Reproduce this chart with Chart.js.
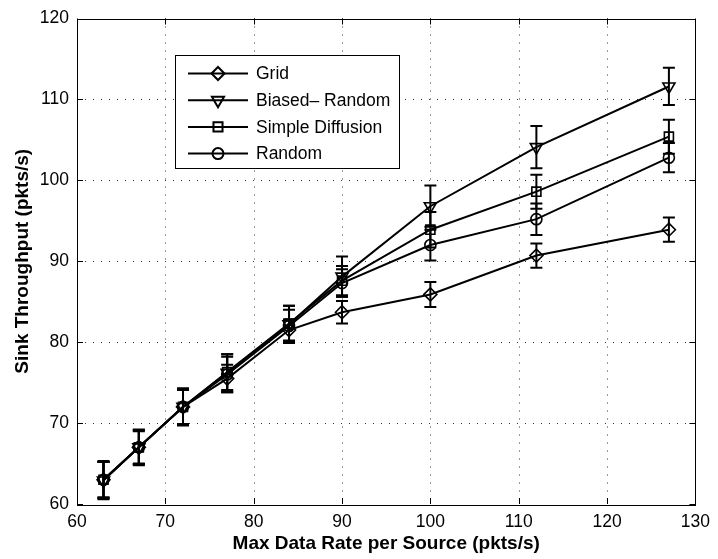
<!DOCTYPE html>
<html>
<head>
<meta charset="utf-8">
<script src="https://cdn.jsdelivr.net/npm/chart.js@4.4.1/dist/chart.umd.min.js"></script>
<style>
  html, body { margin: 0; padding: 0; background: #fff; }
  #wrap { width: 718px; height: 559px; }
</style>
</head>
<body>
<div id="wrap"><canvas id="tputChart" width="718" height="559"></canvas></div>
<script>
// x positions (max data rate per source)
const rates = [63, 67, 72, 77, 84, 90, 100, 112, 127];

const seriesNames = ["Grid", "Biased\u2013 Random", "Simple Diffusion", "Random"];

// mean sink throughput
const gridTput   = [63.0, 67.0, 72.0, 75.5, 81.5, 83.7, 85.9, 90.7, 93.9];
const biasedTput = [62.9, 67.0, 72.0, 76.2, 82.2, 88.1, 96.8, 104.1, 111.6];
const diffTput   = [63.0, 67.0, 72.0, 76.3, 82.3, 87.6, 93.9, 98.6, 105.4];
const randomTput = [63.0, 67.0, 72.0, 76.0, 82.0, 87.3, 92.0, 95.2, 102.8];

// half-width of the error bars
const gridErr   = [2.2, 2.0, 2.1, 1.7, 1.3, 1.4, 1.55, 1.5, 1.5];
const biasedErr = [2.3, 2.2, 2.3, 2.3, 2.3, 2.5, 2.55, 2.6, 2.3];
const diffErr   = [2.3, 2.1, 2.2, 2.2, 2.2, 1.8, 2.2, 2.1, 2.1];
const randomErr = [2.2, 2.1, 2.2, 2.2, 2.0, 1.7, 1.9, 1.95, 1.8];

const xTicks = [60, 70, 80, 90, 100, 110, 120, 130];
const yTicks = [60, 70, 80, 90, 100, 110, 120];

const seriesValues = [gridTput, biasedTput, diffTput, randomTput];
const seriesErrors = [gridErr, biasedErr, diffErr, randomErr];

const markers = [
  { pointStyle: "rectRot", radius: 6.5, rotation: 0 },
  { pointStyle: "triangle", radius: 7, rotation: 180 },
  { pointStyle: "rect", radius: 6.4, rotation: 0 },
  { pointStyle: "circle", radius: 5.5, rotation: 0 }
];

const fontFamily = "'Liberation Sans', Arial, Helvetica, sans-serif";

// dotted grid, axis box and inward tick marks (drawn under the data)
const frame = {
  id: "frame",
  beforeDatasetsDraw(chart) {
    const { ctx, chartArea: a, scales: { x, y } } = chart;
    ctx.save();
    ctx.strokeStyle = "#333";
    ctx.lineWidth = 1;
    ctx.setLineDash([1, 7]);
    ctx.beginPath();
    xTicks.slice(1, -1).forEach(v => {
      const px = Math.round(x.getPixelForValue(v)) + 0.5;
      ctx.moveTo(px, a.top); ctx.lineTo(px, a.bottom);
    });
    yTicks.slice(1, -1).forEach(v => {
      const py = Math.round(y.getPixelForValue(v)) + 0.5;
      ctx.moveTo(a.left, py); ctx.lineTo(a.right, py);
    });
    ctx.stroke();
    ctx.setLineDash([]);
    ctx.strokeStyle = "#000";
    ctx.beginPath();
    xTicks.forEach(v => {
      const px = Math.round(x.getPixelForValue(v)) + 0.5;
      ctx.moveTo(px, a.bottom); ctx.lineTo(px, a.bottom - 6);
      ctx.moveTo(px, a.top); ctx.lineTo(px, a.top + 6);
    });
    yTicks.forEach(v => {
      const py = Math.round(y.getPixelForValue(v)) + 0.5;
      ctx.moveTo(a.left, py); ctx.lineTo(a.left + 6, py);
      ctx.moveTo(a.right, py); ctx.lineTo(a.right - 6, py);
    });
    ctx.stroke();
    ctx.strokeRect(Math.round(a.left) + 0.5, Math.round(a.top) + 0.5,
      Math.round(a.right - a.left), Math.round(a.bottom - a.top));
    ctx.restore();
  }
};

const errorBars = {
  id: "errorBars",
  afterDatasetsDraw(chart) {
    const { ctx, scales: { x, y } } = chart;
    ctx.save();
    ctx.strokeStyle = "#000";
    ctx.lineWidth = 2;
    seriesValues.forEach((vals, i) => {
      const errs = seriesErrors[i];
      rates.forEach((r, j) => {
        const px = x.getPixelForValue(r);
        const top = y.getPixelForValue(vals[j] + errs[j]);
        const bot = y.getPixelForValue(vals[j] - errs[j]);
        ctx.beginPath();
        ctx.moveTo(px, top); ctx.lineTo(px, bot);
        ctx.moveTo(px - 6, top); ctx.lineTo(px + 6, top);
        ctx.moveTo(px - 6, bot); ctx.lineTo(px + 6, bot);
        ctx.stroke();
      });
    });
    ctx.restore();
  }
};

// MATLAB-style legend box: line + marker + label
const boxLegend = {
  id: "boxLegend",
  afterDraw(chart) {
    const ctx = chart.ctx;
    const left = 175.5, top = 55.5, w = 224, h = 113;
    ctx.save();
    ctx.fillStyle = "#fff";
    ctx.fillRect(left, top, w, h);
    ctx.strokeStyle = "#000";
    ctx.lineWidth = 1;
    ctx.strokeRect(left, top, w, h);
    ctx.font = "17.5px " + fontFamily;
    ctx.textBaseline = "middle";
    seriesNames.forEach((name, i) => {
      const ry = 73.5 + i * 26.7;
      ctx.strokeStyle = "#000";
      ctx.lineWidth = 2;
      ctx.beginPath();
      ctx.moveTo(188, ry); ctx.lineTo(248, ry);
      ctx.stroke();
      ctx.fillStyle = "rgba(0,0,0,0)";
      Chart.helpers.drawPoint(ctx, {
        pointStyle: markers[i].pointStyle,
        radius: markers[i].radius,
        rotation: markers[i].rotation,
        borderWidth: 1.3
      }, 218, ry);
      ctx.fillStyle = "#000";
      ctx.fillText(name, 256, ry + 1);
    });
    ctx.restore();
  }
};

const chart = new Chart(document.getElementById("tputChart"), {
  type: "line",
  data: {
    datasets: seriesNames.map((name, i) => ({
      label: name,
      data: rates.map((r, j) => ({ x: r, y: seriesValues[i][j] })),
      borderColor: "#000",
      borderWidth: 2,
      fill: false,
      tension: 0,
      pointStyle: markers[i].pointStyle,
      pointRadius: markers[i].radius,
      pointRotation: markers[i].rotation,
      pointBorderColor: "#000",
      pointBackgroundColor: "rgba(0,0,0,0)",
      pointBorderWidth: 1.6
    }))
  },
  options: {
    responsive: false,
    animation: false,
    layout: { padding: { top: 13, right: 16, bottom: 0, left: 0 } },
    plugins: { legend: { display: false }, tooltip: { enabled: false } },
    scales: {
      x: {
        type: "linear",
        min: 60, max: 130,
        grid: { display: false, drawTicks: false },
        border: { display: false },
        afterBuildTicks: s => { s.ticks = xTicks.map(v => ({ value: v })); },
        afterFit: s => { s.height = 55; },
        ticks: { color: "#000", padding: 8, maxRotation: 0, font: { size: 17.5, family: fontFamily } },
        title: {
          display: true,
          text: "Max Data Rate per Source (pkts/s)",
          color: "#000",
          padding: { top: 0, bottom: 4 },
          font: { size: 19, weight: "bold", family: fontFamily }
        }
      },
      y: {
        type: "linear",
        min: 60, max: 120,
        grid: { display: false, drawTicks: false },
        border: { display: false },
        afterBuildTicks: s => { s.ticks = yTicks.map(v => ({ value: v })); },
        afterFit: s => { s.width = 77; },
        ticks: { color: "#000", padding: 8, font: { size: 17.5, family: fontFamily } },
        title: {
          display: true,
          text: "Sink Throughput (pkts/s)",
          color: "#000",
          padding: { top: 11, bottom: 0 },
          font: { size: 19, weight: "bold", family: fontFamily }
        }
      }
    }
  },
  plugins: [frame, errorBars, boxLegend]
});
</script>
</body>
</html>
